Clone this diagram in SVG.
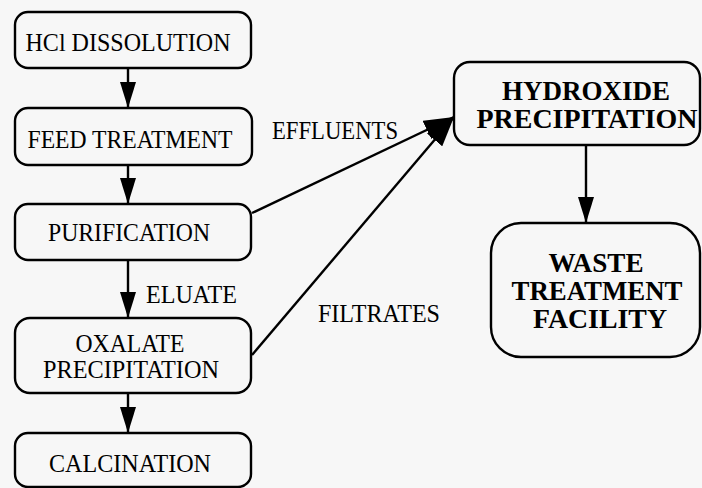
<svg xmlns="http://www.w3.org/2000/svg" width="702" height="488" viewBox="0 0 702 488">
<defs>
<style>
.box{fill:none;stroke:#000;stroke-width:2.4}
.t{font-family:"Liberation Serif","Times New Roman",serif;font-size:26px;fill:#000;text-anchor:middle}
.t2{font-family:"Liberation Serif","Times New Roman",serif;font-size:24.5px;fill:#000;text-anchor:middle}
.b{font-family:"Liberation Serif","Times New Roman",serif;font-size:27px;font-weight:bold;fill:#000;text-anchor:middle}
.lbl{font-family:"Liberation Serif","Times New Roman",serif;font-size:25px;fill:#000}
.c{fill:none;stroke:#000;stroke-width:2.4}
</style>
<marker id="ah" viewBox="0 0 26 16" refX="26" refY="8" markerWidth="26" markerHeight="16" markerUnits="userSpaceOnUse" orient="auto">
<path d="M0,0 L26,8 L0,16 z" fill="#000"/>
</marker>
<marker id="ahb" viewBox="0 0 30 20" refX="30" refY="10" markerWidth="30" markerHeight="20" markerUnits="userSpaceOnUse" orient="auto">
<path d="M0,0 L30,10 L0,20 z" fill="#000"/>
</marker>
</defs>
<rect width="702" height="488" fill="#f7f7f7"/>
<g id="connectors">
<line class="c" x1="128" y1="69" x2="128" y2="108" marker-end="url(#ah)"/>
<line class="c" x1="128" y1="165" x2="128" y2="204" marker-end="url(#ah)"/>
<line class="c" x1="128" y1="260" x2="128" y2="318" marker-end="url(#ah)"/>
<line class="c" x1="128" y1="393" x2="128" y2="433" marker-end="url(#ah)"/>
<line class="c" x1="252" y1="213" x2="454" y2="117" marker-end="url(#ahb)"/>
<line class="c" x1="252" y1="355" x2="454" y2="117" marker-end="url(#ahb)"/>
<line class="c" x1="586" y1="145" x2="586" y2="223" marker-end="url(#ah)"/>
<text class="lbl" x="146" y="303" textLength="91" lengthAdjust="spacingAndGlyphs">ELUATE</text>
<text class="lbl" x="272" y="139" textLength="126" lengthAdjust="spacingAndGlyphs">EFFLUENTS</text>
<text class="lbl" x="318" y="322" textLength="122" lengthAdjust="spacingAndGlyphs">FILTRATES</text>
</g>
<g id="hcl">
<rect class="box" x="15" y="12" width="236" height="56" rx="13"/>
<text class="t" x="128" y="51" textLength="205" lengthAdjust="spacingAndGlyphs">HCl  DISSOLUTION</text>
</g>
<g id="feed">
<rect class="box" x="15" y="108" width="237" height="57" rx="13"/>
<text class="t" x="130" y="148" textLength="205" lengthAdjust="spacingAndGlyphs">FEED TREATMENT</text>
</g>
<g id="purification">
<rect class="box" x="15" y="204" width="236" height="56" rx="13"/>
<text class="t" x="129" y="241" textLength="162" lengthAdjust="spacingAndGlyphs">PURIFICATION</text>
</g>
<g id="oxalate">
<rect class="box" x="15" y="318" width="236" height="75" rx="15"/>
<text class="t2" x="130" y="352" textLength="109" lengthAdjust="spacingAndGlyphs">OXALATE</text>
<text class="t2" x="131" y="378" textLength="176" lengthAdjust="spacingAndGlyphs">PRECIPITATION</text>
</g>
<g id="calcination">
<rect class="box" x="15" y="433" width="236" height="54" rx="13"/>
<text class="t" x="130" y="472" textLength="162" lengthAdjust="spacingAndGlyphs">CALCINATION</text>
</g>
<g id="hydroxide">
<rect class="box" x="454" y="62" width="246" height="83" rx="16"/>
<text class="b" x="586" y="100" textLength="168" lengthAdjust="spacingAndGlyphs">HYDROXIDE</text>
<text class="b" x="587" y="128" textLength="221" lengthAdjust="spacingAndGlyphs">PRECIPITATION</text>
</g>
<g id="waste">
<rect class="box" x="491" y="223" width="209" height="134" rx="30"/>
<text class="b" x="596" y="272" textLength="95" lengthAdjust="spacingAndGlyphs">WASTE</text>
<text class="b" x="597" y="300" textLength="171" lengthAdjust="spacingAndGlyphs">TREATMENT</text>
<text class="b" x="600" y="328" textLength="134" lengthAdjust="spacingAndGlyphs">FACILITY</text>
</g>
</svg>
